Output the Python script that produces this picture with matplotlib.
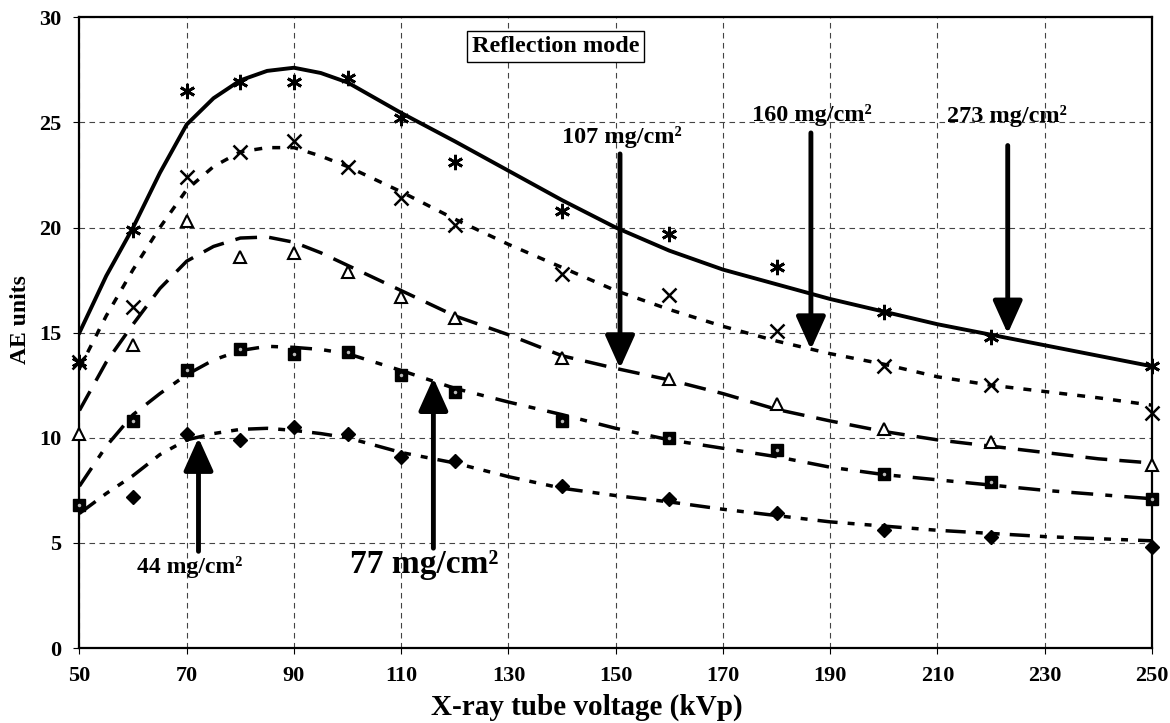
import matplotlib
matplotlib.use("Agg")
import matplotlib.pyplot as plt

plt.rcParams["font.family"] = ["Liberation Serif", "DejaVu Serif"]
plt.rcParams["font.weight"] = "bold"

# measured points (kVp)
kvp = [50, 60, 70, 80, 90, 100, 110, 120, 140, 160, 180, 200, 220, 250]
ae_273 = [13.6, 19.9, 26.5, 26.9, 26.9, 27.1, 25.2, 23.1, 20.8, 19.7, 18.1, 16.0, 14.8, 13.4]
ae_160 = [13.6, 16.2, 22.4, 23.6, 24.1, 22.9, 21.4, 20.1, 17.8, 16.8, 15.1, 13.4, 12.5, 11.2]
ae_107 = [10.2, 14.4, 20.3, 18.6, 18.8, 17.9, 16.7, 15.7, 13.8, 12.8, 11.6, 10.4, 9.8, 8.7]
ae_77 = [6.8, 10.8, 13.2, 14.2, 14.0, 14.1, 13.0, 12.2, 10.8, 10.0, 9.4, 8.3, 7.9, 7.1]
kvp_44 = [60, 70, 80, 90, 100, 110, 120, 140, 160, 180, 200, 220, 250]
ae_44 = [7.2, 10.2, 9.9, 10.5, 10.2, 9.1, 8.9, 7.7, 7.1, 6.4, 5.6, 5.3, 4.8]

# fitted curves
fit_kvp = [50, 55, 60, 65, 70, 75, 80, 85, 90, 95, 100, 110, 120, 130, 140, 150,
           160, 170, 180, 190, 200, 210, 220, 230, 240, 250]
fit_273 = [15.0, 17.7, 20.0, 22.6, 24.9, 26.15, 27.0, 27.45, 27.6, 27.35, 26.9, 25.45, 24.1,
           22.7, 21.3, 20.0, 18.9, 18.0, 17.3, 16.6, 16.0, 15.4, 14.9, 14.4, 13.9, 13.4]
fit_160 = [13.3, 15.8, 18.0, 20.0, 21.8, 22.9, 23.6, 23.8, 23.8, 23.4, 22.9, 21.7, 20.4,
           19.2, 18.1, 17.0, 16.1, 15.3, 14.6, 14.0, 13.5, 12.9, 12.5, 12.2, 11.9, 11.55]
fit_107 = [11.3, 13.6, 15.4, 17.1, 18.4, 19.1, 19.5, 19.55, 19.3, 18.8, 18.2, 17.0, 15.8,
           14.9, 13.9, 13.3, 12.75, 12.1, 11.35, 10.8, 10.3, 9.9, 9.6, 9.3, 9.0, 8.8]
fit_77 = [7.7, 9.6, 11.1, 12.1, 13.0, 13.7, 14.15, 14.35, 14.3, 14.2, 14.0, 13.2, 12.35,
          11.7, 11.1, 10.45, 9.9, 9.5, 9.1, 8.6, 8.25, 8.0, 7.75, 7.5, 7.3, 7.1]
fit_44 = [6.4, 7.35, 8.2, 9.2, 9.9, 10.2, 10.4, 10.45, 10.35, 10.2, 10.0, 9.3, 8.8,
          8.15, 7.6, 7.25, 6.95, 6.6, 6.3, 6.0, 5.8, 5.6, 5.45, 5.3, 5.2, 5.1]

# arrow annotations: label, text pos, arrow tail, arrow tip
labels = ["44 mg/cm²", "77 mg/cm²", "107 mg/cm²", "160 mg/cm²", "273 mg/cm²"]
label_xy = [(70.6, 3.85), (114.2, 3.95), (151.1, 24.3), (186.5, 25.35), (223.0, 25.3)]
arrow_from = [(72.2, 4.6), (116.0, 4.75), (150.8, 23.5), (186.4, 24.5), (223.1, 23.9)]
arrow_to = [(72.2, 10.0), (116.0, 12.85), (150.8, 13.3), (186.4, 14.2), (223.1, 14.95)]
label_size = [17, 24, 17.5, 17.5, 17.5]

fig = plt.figure(figsize=(11.7, 7.23), dpi=100)
ax = fig.add_axes([0.0679, 0.1037, 0.9167, 0.8724])

# curves
style = dict(color="black", zorder=3, solid_joinstyle="round", dash_joinstyle="round")
ax.plot(fit_kvp, fit_273, lw=2.8, ls="-", **style)
ax.plot(fit_kvp, fit_160, lw=2.5, ls=(0, (2.3, 2.9)), **style)
ax.plot(fit_kvp, fit_107, lw=2.5, ls=(0, (6.3, 3.5)), **style)
ax.plot(fit_kvp, fit_77, lw=2.5, ls=(0, (6.3, 3.5, 2.0, 3.5)), **style)
ax.plot(fit_kvp, fit_44, lw=2.5, ls=(0, (5.8, 2.9, 2.0, 2.9, 2.0, 2.9)), **style)

# markers
ax.plot(kvp, ae_273, ls="none", marker=(6, 2, 0), ms=11, mew=2, color="black",
        clip_on=False, zorder=4)
ax.plot(kvp, ae_160, ls="none", marker="x", ms=10, mew=1.8, color="black",
        clip_on=False, zorder=4)
ax.plot(kvp, ae_107, ls="none", marker="^", ms=8, mew=1.5, mfc="white", mec="black",
        clip_on=False, zorder=4)
ax.plot(kvp, ae_77, ls="none", marker="s", ms=8, mfc="black", mec="black",
        clip_on=False, zorder=4)
ax.plot(kvp, ae_77, ls="none", marker="o", ms=2.5, mfc="#bbbbbb", mec="none",
        clip_on=False, zorder=5)
ax.plot(kvp_44, ae_44, ls="none", marker="D", ms=7, color="black",
        clip_on=False, zorder=4)

# arrows and labels
for lab, txy, a0, a1, fs in zip(labels, label_xy, arrow_from, arrow_to, label_size):
    ax.annotate("", xy=a1, xytext=a0,
                arrowprops=dict(arrowstyle="-|>,head_length=1.0,head_width=0.45",
                                mutation_scale=20, lw=3.5, color="black",
                                shrinkA=0, shrinkB=0), zorder=6)
    ax.text(txy[0], txy[1], lab, ha="center", va="center", fontsize=fs,
            fontweight="bold", zorder=6)

ax.text(138.8, 28.6, "Reflection mode", ha="center", va="center", fontsize=17.5,
        fontweight="bold", zorder=6,
        bbox=dict(boxstyle="square,pad=0.2", fc="white", ec="black", lw=1.0))

ax.set_xlim(50, 250)
ax.set_ylim(0, 30)
ax.set_xticks(range(50, 251, 20))
ax.set_yticks(range(0, 31, 5))
ax.grid(True, color="#444444", lw=0.8, ls=(0, (5, 4)))
ax.set_axisbelow(True)
ax.tick_params(direction="out", length=4, width=0.8, labelsize=16, pad=9)
for lbl in ax.get_xticklabels() + ax.get_yticklabels():
    lbl.set_fontweight("bold")
for sp in ax.spines.values():
    sp.set_linewidth(1.6)
    sp.set_color("black")

ax.set_xlabel("X-ray tube voltage (kVp)", fontsize=21, fontweight="bold")
ax.xaxis.set_label_coords(0.473, -0.094)
ax.xaxis.label.set_va("center")
ax.set_ylabel("AE units", fontsize=17, fontweight="bold")
ax.yaxis.set_label_coords(-0.055, 0.52)
ax.yaxis.label.set_va("center")

fig.savefig("out.png", dpi=100)
